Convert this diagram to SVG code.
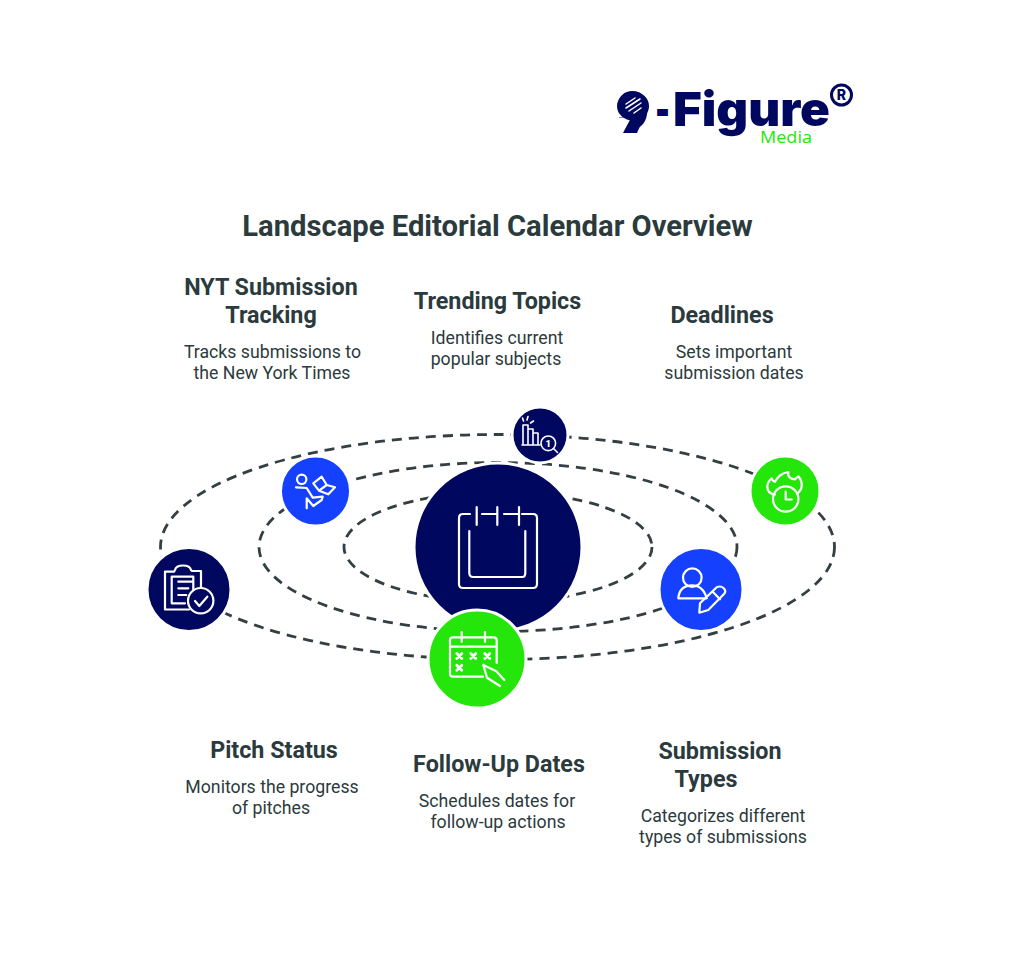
<svg xmlns="http://www.w3.org/2000/svg" width="1024" height="962" viewBox="0 0 1024 962">
<style>
text{font-family:Roboto,"Liberation Sans",sans-serif;text-anchor:middle;fill:#2b3a3c}
.t{font-size:29.2px;font-weight:700}
.h{font-size:23.3px;font-weight:700}
.d{font-size:17.7px;font-weight:400}
.logo{font-family:Inter,"Liberation Sans",sans-serif;fill:#00075f;font-weight:900}
.orbit{fill:none;stroke:#333f42;stroke-width:2.8;stroke-dasharray:10 7}
.ic{fill:none;stroke:#fff;stroke-width:2.2;stroke-linecap:round;stroke-linejoin:round}
.thin{stroke-width:1.6}
.disc{stroke:#fff;stroke-width:3}
.navy{fill:#00075f}.blue{fill:#1540fd}.green{fill:#25e60a}
</style>
<rect width="1024" height="962" fill="#fff"/>
<g id="logo">
<text class="logo" style="text-anchor:start;font-size:47px"><tspan x="617" y="128" style="font-size:50px" textLength="32" lengthAdjust="spacingAndGlyphs">9</tspan><tspan x="655" y="126" textLength="15" lengthAdjust="spacingAndGlyphs">-</tspan><tspan x="673" y="126" textLength="157" lengthAdjust="spacingAndGlyphs">Figure</tspan></text>
<path d="M612 118h18v18h-18z" fill="#fff"/>
<ellipse cx="633" cy="106" rx="16" ry="14.500" fill="#00075f"/>
<path d="M649 106L637 133H623L632 116Z" fill="#00075f"/>
<path d="M626 104l9-6M626 108l14-9M629 111l12-8M634 113l7-5" fill="none" stroke="#fff" stroke-width="1.500" stroke-linecap="round"/>
<circle cx="841.500" cy="95" r="10" fill="none" stroke="#00075f" stroke-width="3"/>
<text class="logo" x="841.500" y="100" style="font-size:14px;font-weight:800">R</text>
<text x="786" y="142.700" style="font-family:'Open Sans',sans-serif;font-size:15.500px;fill:#25e60a" textLength="52" lengthAdjust="spacingAndGlyphs">Media</text>
</g>
<text id="title" class="t" x="497.500" y="236">Landscape Editorial Calendar Overview</text>
<g id="connectors">
<ellipse class="orbit" cx="497.500" cy="547" rx="337" ry="112.500"/>
<ellipse class="orbit" cx="498" cy="547" rx="239" ry="84.500"/>
<ellipse class="orbit" cx="498" cy="547" rx="154" ry="55"/>
</g>
<g id="center">
<circle class="disc navy" cx="498" cy="547" r="84"/>
<path class="ic" d="M470 514h-7q-4 0-4 4v66q0 4 4 4h70q4 0 4-4v-66q0-4-4-4h-11M482 514h15M504 514h15M476.700 507v18M497.300 507v18M519 507v18M469.300 531v42q0 4 4 4h49q3 0 3-4v-42"/>
</g>
<g id="trending">
<circle class="disc navy" cx="540" cy="435" r="28"/>
<path class="ic thin" d="M523 445v-20h5v20M528 429h5v16M533 433h5v12M522 445h18M523.500 421l-1-3M527 420l1-3.500M530.500 423l3-2M553.500 448.500l4 4"/>
<circle class="ic thin" cx="548.300" cy="443.300" r="7.300"/>
<text x="548.300" y="446.800" style="font-size:9.500px;font-weight:900;fill:#fff">1</text>
</g>
<g id="nyt">
<circle class="disc blue" cx="315.500" cy="491" r="35"/>
<g class="ic"><circle cx="301.700" cy="479.300" r="4.700"/><path d="M296 487.300l10.700.7 6 9.700 10-1-1 3.300-8.400 6-6.600-7.700v10"/><path d="M313.300 483.300l8.400-6.600 5 8.300-7.700 5.700zM326.700 485l8.300 2.300-6.700 7-9.300-3.600"/></g>
</g>
<g id="deadlines">
<circle class="disc green" cx="785" cy="491" r="35"/>
<g class="ic"><circle cx="785.700" cy="499" r="12.700"/><path d="M785.700 491.500v8h6M775 494.500c-5-.5-7.700-3-7.700-7.800 0-3.500 2-6.200 4.400-8.400.5 2 1.500 3 3.300 3.400 1.500-2.500 3-4.700 5-6.200 2.500-1.800 5.500-3.100 8.300-3.500-.5 2.500 0 4.500 1.700 5.700 1.500 1.200 3.300 1.600 5 1.600 1-1.100 2.200-2.200 3.300-3 2.400 2.800 3.500 5.300 3.500 8.400 0 4-2 6.900-4.500 8.900"/></g>
</g>
<g id="pitch">
<circle class="disc navy" cx="189" cy="589.500" r="42"/>
<g class="ic"><path d="M201 586.700V571h-9l-1 -1q-1-4.500-8-4.500t-8 4.500l-1 1.700h-9v37.800h24"/><path d="M171.700 576.700h21.600V590M171.700 576.700v26.600H185M178.300 581.700h13.400M178.300 588.300h10M178.300 595h8"/><circle cx="200.700" cy="600.700" r="12.700"/><path d="M195 601l4.300 5 8-9.300"/></g>
</g>
<g id="types">
<circle class="disc blue" cx="701" cy="589.500" r="42"/>
<g class="ic"><circle cx="692.300" cy="577.700" r="9.300"/><path d="M678.300 598.300q1-13 14-13 9 0 13 9l1.500 4z"/><path d="M699.300 612.700l.7-9.400 16.700-16q4-2 7 1t.3 5.700l-15.700 16zM712.700 591.700l7.300 7.600"/></g>
</g>
<g id="followup">
<circle class="disc green" cx="477" cy="659" r="49"/>
<g class="ic"><path d="M483 676.700h-30q-3 0-3-3v-33.400q0-3 3-3h40.700q3 0 3 3V663M450 646.700h46.700M461.700 632v9.700M485 632v9.700"/><path style="stroke-width:2.800" d="M456.800 653.500l5 5M461.800 653.500l-5 5M470.800 653.500l5 5M475.800 653.500l-5 5M484.800 653.500l5 5M489.800 653.500l-5 5M456.800 665.200l5 5M461.800 665.200l-5 5"/><path d="M483.300 665l13 6.300 8 8.700M483.300 665l3.700 12.700 13 8.300"/></g>
</g>
<g id="label-nyt"><text class="h" x="271" y="295">NYT Submission</text><text class="h" x="271" y="323">Tracking</text><text class="d" x="272.500" y="358">Tracks submissions to</text><text class="d" x="272" y="379">the New York Times</text></g>
<g id="label-trending"><text class="h" x="497.500" y="309">Trending Topics</text><text class="d" x="497" y="344">Identifies current</text><text class="d" x="496" y="365">popular subjects</text></g>
<g id="label-deadlines"><text class="h" x="722" y="323">Deadlines</text><text class="d" x="734" y="358">Sets important</text><text class="d" x="734" y="379">submission dates</text></g>
<g id="label-pitch"><text class="h" x="274" y="758">Pitch Status</text><text class="d" x="272" y="793">Monitors the progress</text><text class="d" x="271" y="814">of pitches</text></g>
<g id="label-followup"><text class="h" x="499" y="772">Follow-Up Dates</text><text class="d" x="497" y="807">Schedules dates for</text><text class="d" x="498" y="828">follow-up actions</text></g>
<g id="label-types"><text class="h" x="720" y="759">Submission</text><text class="h" x="706" y="787">Types</text><text class="d" x="723" y="822">Categorizes different</text><text class="d" x="723" y="843">types of submissions</text></g>
</svg>
